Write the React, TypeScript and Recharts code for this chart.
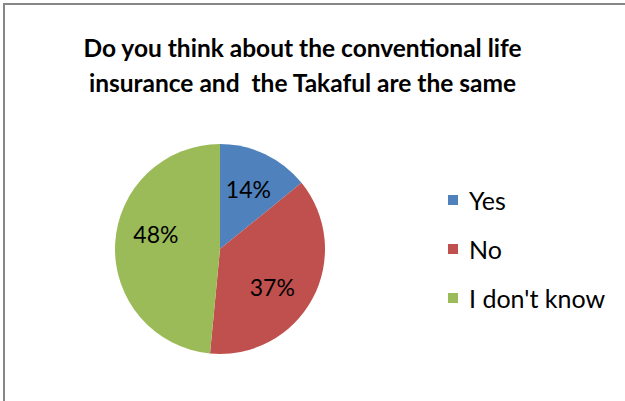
import { Legend, Pie, PieChart, Cell } from "recharts";

const categories = ["Yes", "No", "I don't know"];
const shares = [14, 37, 48];
const colors = ["#4F81BD", "#C0504D", "#9BBB59"];
const titleLines = ["Do you think about the conventional life", "insurance and  the Takaful are the same"];

const data = categories.map((name, i) => ({ name, value: shares[i] }));

const FONT = "Lato, 'Open Sans', sans-serif";
const RAD = Math.PI / 180;
// small nudges so the labels sit where Excel's best-fit put them
const LABEL_NUDGE = [
  [0, 0],
  [-6, 7],
  [2, -12],
];

function SliceLabel(props: any) {
  const { cx, cy, midAngle, outerRadius, value, index } = props;
  const r = outerRadius * 0.63;
  const [dx, dy] = LABEL_NUDGE[index] ?? [0, 0];
  const x = cx + r * Math.cos(-midAngle * RAD) + dx;
  const y = cy + r * Math.sin(-midAngle * RAD) + dy;
  return (
    <text x={x} y={y} textAnchor="middle" dominantBaseline="central" fill="#000" fontSize={23} fontFamily={FONT}>
      {value}%
    </text>
  );
}

function LegendBox() {
  return (
    <div style={{ fontFamily: FONT, fontSize: 25, color: "#000" }}>
      {data.map((d, i) => (
        <div key={d.name} style={{ display: "flex", alignItems: "center", height: 49 }}>
          <span style={{ width: 10, height: 10, background: colors[i], marginRight: 11 }} />
          <span>{d.name}</span>
        </div>
      ))}
    </div>
  );
}

export default function App() {
  return (
    <div style={{ position: "absolute", left: 0, top: 0, width: 625, height: 401, overflow: "hidden", background: "#fff" }}>
      <div style={{ position: "absolute", left: 3, top: 3, width: 700, height: 500, border: "2px solid #878787" }} />
      <div
        style={{
          position: "absolute",
          left: 0,
          width: 605,
          top: 30,
          textAlign: "center",
          fontFamily: FONT,
          fontWeight: 700,
          fontSize: 24.5,
          lineHeight: "35px",
          color: "#000",
        }}
      >
        {titleLines.map((t) => (
          <div key={t} style={{ whiteSpace: "pre" }}>{t}</div>
        ))}
      </div>
      <div style={{ position: "absolute", left: 0, top: 0 }}>
        <PieChart width={625} height={401} margin={{ top: 0, right: 0, bottom: 0, left: 0 }}>
          <Pie
            data={data}
            dataKey="value"
            nameKey="name"
            cx={220}
            cy={249}
            outerRadius={105}
            startAngle={90}
            endAngle={-270}
            stroke="none"
            label={SliceLabel}
            labelLine={false}
            isAnimationActive={false}
          >
            {data.map((d, i) => (
              <Cell key={d.name} fill={colors[i]} />
            ))}
          </Pie>
          <Legend content={<LegendBox />} wrapperStyle={{ left: 448, top: 175, width: 175 }} />
        </PieChart>
      </div>
    </div>
  );
}
